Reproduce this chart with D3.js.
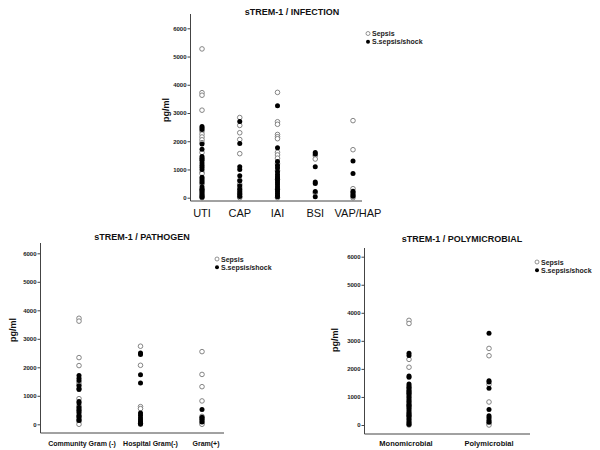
<!DOCTYPE html>
<html><head><meta charset="utf-8">
<script src="https://cdn.jsdelivr.net/npm/d3@7"></script>
<style>body{margin:0;background:#fff}svg{display:block}text{font-family:"Liberation Sans",Arial,sans-serif}</style>
</head><body>
<script>
const yTicks = [0, 1000, 2000, 3000, 4000, 5000, 6000];
const seriesNames = ["Sepsis", "S.sepsis/shock"];

// Panel 1: INFECTION
const infCategories = ["UTI", "CAP", "IAI", "BSI", "VAP/HAP"];
const infSepsis = [
  [5270, 3720, 3630, 3100, 2350, 2250, 2150, 2050, 1950, 1600, 1350, 900, 850, 480, 300, 0],
  [2840, 2560, 2300, 2060, 1560, 620, 480, 350, 250, 150, 50, 0],
  [3730, 2690, 2600, 2240, 2160, 2090, 1610, 1515, 1400, 1200, 950, 650, 300, 0],
  [1490, 1370, 170],
  [2730, 1700, 320, 130, 0]
];
const infShock = [
  [2520, 2470, 2420, 1900, 1720, 1460, 1400, 1320, 1230, 1150, 1080, 1000, 720, 660, 600, 540, 380, 300, 250, 200, 150, 100, 60, 20],
  [2700, 1920, 1100, 1000, 780, 600, 420, 300, 200, 120, 40],
  [3260, 1765, 1280, 1140, 1050, 920, 820, 740, 680, 600, 530, 460, 380, 300, 230, 160, 90, 30],
  [1600, 1550, 1100, 560, 500, 220, 30],
  [1300, 860, 230, 180, 100, 50]
];

// Panel 2: PATHOGEN
const patCategories = ["Community Gram (-)", "Hospital Gram(-)", "Gram(+)"];
const patSepsis = [
  [3720, 3620, 2340, 2060, 1460, 1380, 900, 650, 450, 300, 100, 0],
  [2740, 2070, 620, 550, 30],
  [2550, 1750, 1320, 820, 280, 120, 40, 0]
];
const patShock = [
  [1710, 1620, 1540, 1350, 1260, 1220, 800, 750, 600, 540, 480, 400, 300, 250, 180, 130],
  [2500, 2450, 1740, 1450, 400, 320, 230, 160, 100, 50, 0],
  [520, 250, 200, 160, 80]
];

// Panel 3: POLYMICROBIAL
const polyCategories = ["Monomicrobial", "Polymicrobial"];
const polySepsis = [
  [3730, 3620, 2340, 2060, 1150, 700, 350, 0],
  [2730, 2470, 1450, 820, 200, 60, 0]
];
const polyShock = [
  [2560, 2480, 1750, 1700, 1460, 1400, 1350, 1300, 1240, 1190, 1130, 1080, 1020, 960, 900, 850, 790, 730, 680, 620, 570, 510, 450, 400, 340, 290, 230, 180, 120, 70, 20],
  [3270, 1580, 1530, 1310, 550, 330, 270, 150, 100]
];

const svg = d3.select("body").append("svg").attr("width", 600).attr("height", 450);

function panel(o) {
  const g = svg.append("g");
  const y = d3.scaleLinear().domain([0, 6000]).range([o.y0, o.y6000]);
  const x = d3.scalePoint().domain(o.cats).range([o.c0, o.c1]);

  g.append("line").attr("x1", o.ax).attr("x2", o.ax).attr("y1", o.axTop).attr("y2", o.axBottom)
    .attr("stroke", "#444").attr("stroke-width", 1);
  g.append("line").attr("x1", o.ax).attr("x2", o.axRight).attr("y1", o.axBottom).attr("y2", o.axBottom)
    .attr("stroke", "#444").attr("stroke-width", 1);

  const ya = g.append("g").attr("transform", `translate(${o.ax},0)`)
    .call(d3.axisLeft(y).tickValues(yTicks).tickSize(3).tickPadding(1).tickFormat(d3.format("d")));
  ya.select(".domain").remove();
  ya.selectAll("line").attr("stroke", "#444");
  ya.selectAll("text").attr("font-size", 6).attr("font-weight", "bold").attr("fill", "#222")
    .attr("font-family", "Liberation Sans, Arial, sans-serif");

  g.append("text").attr("transform", `translate(${o.ylx},${o.yly}) rotate(-90)`)
    .attr("text-anchor", "middle").attr("font-size", 9).attr("font-weight", "bold").attr("fill", "#111")
    .text("pg/ml");

  g.selectAll(".xl").data(o.cats).enter().append("text")
    .attr("x", (d, i) => x(d) + o.xdx[i]).attr("y", o.xly).attr("text-anchor", "middle")
    .attr("font-size", o.xfs).attr("font-weight", o.xfw).attr("fill", "#111").text(d => d);

  g.append("text").attr("x", o.tx).attr("y", o.ty).attr("text-anchor", "middle")
    .attr("font-size", 9).attr("font-weight", "bold").attr("fill", "#111").text(o.title);

  o.cats.forEach((c, i) => {
    g.selectAll(null).data(o.sepsis[i]).enter().append("circle")
      .attr("cx", x(c)).attr("cy", d => y(d)).attr("r", 2.3).attr("fill", "#fff")
      .attr("stroke", "#777").attr("stroke-width", 0.9);
    g.selectAll(null).data(o.shock[i]).enter().append("circle")
      .attr("cx", x(c)).attr("cy", d => y(d)).attr("r", 2.5).attr("fill", "#000");
  });

  seriesNames.forEach((s, i) => {
    const ly = o.ly + i * o.lstep;
    const cc = g.append("circle").attr("cx", o.lx).attr("cy", ly).attr("r", 2);
    if (i === 0) cc.attr("fill", "#fff").attr("stroke", "#777").attr("stroke-width", 0.8);
    else cc.attr("fill", "#000");
    g.append("text").attr("x", o.lx + 4).attr("y", ly + 2.5).attr("font-size", 7)
      .attr("font-weight", "bold").attr("fill", "#222").text(s);
  });
}

panel({ title: "sTREM-1 / INFECTION", cats: infCategories, sepsis: infSepsis, shock: infShock,
  y0: 197.7, y6000: 28.3, c0: 202, c1: 353, ax: 190.5, axTop: 14, axBottom: 201, axRight: 362,
  ylx: 169, yly: 110, xly: 217, xfs: 11, xfw: "normal", xdx: [0, 0, 0, 0, 5], tx: 292, ty: 15, lx: 368, ly: 33.5, lstep: 8.3 });

panel({ title: "sTREM-1 / PATHOGEN", cats: patCategories, sepsis: patSepsis, shock: patShock,
  y0: 424.3, y6000: 253.3, c0: 79, c1: 202, ax: 40.5, axTop: 243, axBottom: 433, axRight: 224,
  ylx: 16, yly: 330, xly: 446, xfs: 7, xfw: "bold", xdx: [3, 10, 4], tx: 142, ty: 240, lx: 217, ly: 259, lstep: 8.3 });

panel({ title: "sTREM-1 / POLYMICROBIAL", cats: polyCategories, sepsis: polySepsis, shock: polyShock,
  y0: 425, y6000: 256.7, c0: 409, c1: 489, ax: 364.5, axTop: 248, axBottom: 434, axRight: 530,
  ylx: 338, yly: 340, xly: 445.5, xfs: 7.5, xfw: "bold", xdx: [-3, 0], tx: 462, ty: 242, lx: 537, ly: 262, lstep: 8.3 });
</script>
</body></html>
